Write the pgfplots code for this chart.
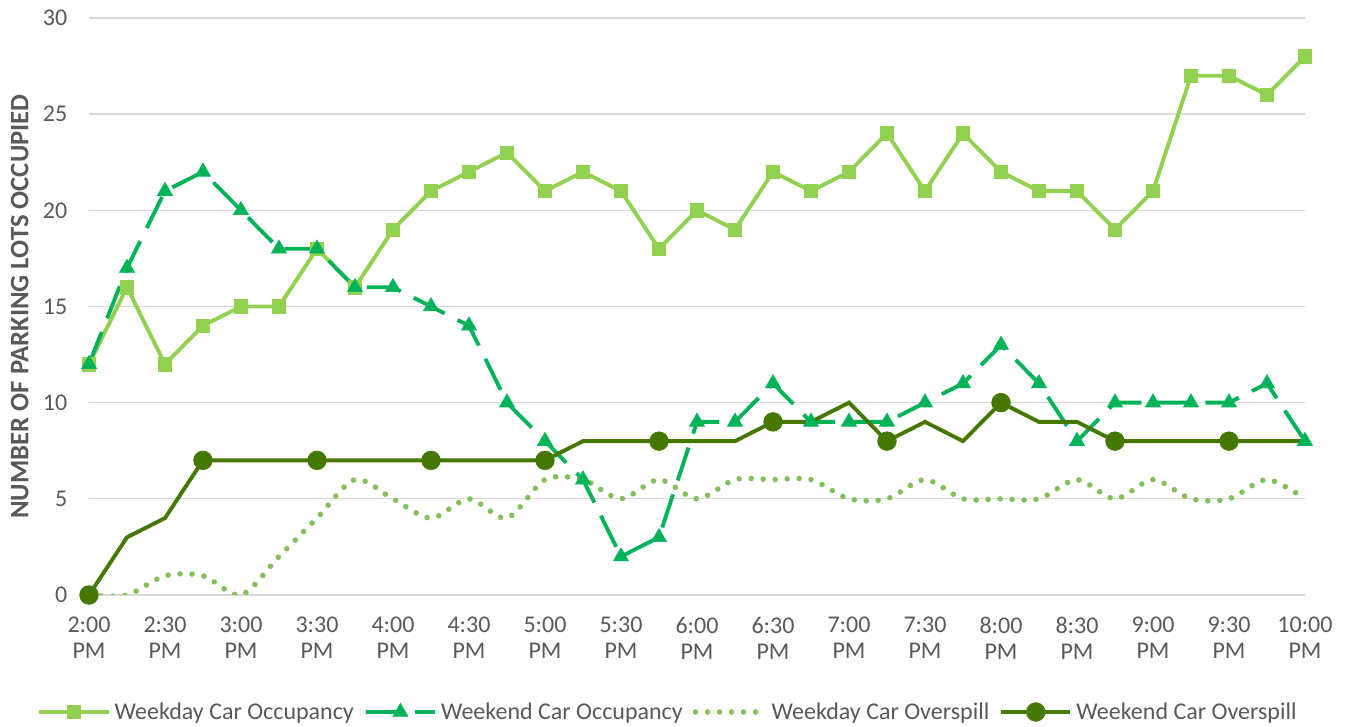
\documentclass[border=0pt]{standalone}
\usepackage{pgfplots}
\pgfplotsset{compat=1.18}
\usepackage{pgfplotstable}
\usepackage{fontspec}
\setmainfont{Carlito}
\definecolor{wdocc}{HTML}{92D050}
\definecolor{weocc}{HTML}{00B359}
\definecolor{wdover}{HTML}{84BF5C}
\definecolor{weover}{HTML}{447800}
\definecolor{txt}{HTML}{595959}
\definecolor{grd}{HTML}{D9D9D9}

\pgfplotstableread{
x wdocc weocc wdover weover
0 12 12 0 0
1 16 17 0 3
2 12 21 1 4
3 14 22 1 7
4 15 20 0 7
5 15 18 2 7
6 18 18 4 7
7 16 16 6 7
8 19 16 5 7
9 21 15 4 7
10 22 14 5 7
11 23 10 4 7
12 21 8 6 7
13 22 6 6 8
14 21 2 5 8
15 18 3 6 8
16 20 9 5 8
17 19 9 6 8
18 22 11 6 9
19 21 9 6 9
20 22 9 5 10
21 24 9 5 8
22 21 10 6 9
23 24 11 5 8
24 22 13 5 10
25 21 11 5 9
26 21 8 6 9
27 19 10 5 8
28 21 10 6 8
29 27 10 5 8
30 27 10 5 8
31 26 11 6 8
32 28 8 5 8
}\datatable

\begin{document}
\begin{tikzpicture}
\useasboundingbox (-66.75pt,-99pt) rectangle (943.5pt,446.25pt);
\begin{axis}[
  at={(0pt,0pt)}, anchor=origin,
  scale only axis,
  width=912pt, height=432.75pt,
  xmin=0, xmax=32, ymin=0, ymax=30,
  axis line style={draw=none},
  major tick length=0pt,
  ymajorgrids, grid style={grd, line width=1pt},
  ytick={0,5,...,30},
  xtick={0,2,...,32},
  xticklabels={{2:00\\PM},{2:30\\PM},{3:00\\PM},{3:30\\PM},{4:00\\PM},{4:30\\PM},{5:00\\PM},{5:30\\PM},{6:00\\PM},{6:30\\PM},{7:00\\PM},{7:30\\PM},{8:00\\PM},{8:30\\PM},{9:00\\PM},{9:30\\PM},{10:00\\PM}},
  /pgf/number format/assume math mode=true,
  tick label style={text=txt, font=\fontsize{18}{19.5}\selectfont},
  xticklabel style={align=center, yshift=-13pt},
  yticklabel style={xshift=-12.75pt},
  ylabel={\textbf{NUMBER OF PARKING LOTS OCCUPIED}},
  ylabel style={at={(rel axis cs:0,0.5)}, anchor=center, yshift=52pt, text=txt, font=\fontsize{20}{22}\selectfont},
  legend columns=4,
  legend style={draw=none, fill=none, at={(rel axis cs:0.5,0)}, anchor=center, yshift=-87.75pt, xshift=-21pt,
     font=\fontsize{18}{20}\selectfont, text=txt,
     nodes={inner xsep=3pt},
     /tikz/every even column/.append style={column sep=4.5pt}},
  legend cell align=left,
  legend image code/.code={\draw[#1,mark repeat=2,mark phase=2] plot coordinates {(0pt,0pt) (26pt,0pt) (52pt,0pt)};},
]
\addplot[wdocc, line width=2.9pt, mark=square*, mark size=5pt, mark options={solid, line width=0.5pt}] table[x=x,y=wdocc]{\datatable};
\addlegendentry{Weekday Car Occupancy}
\addplot[weocc, line width=2.9pt, dash pattern=on 26pt off 11pt, mark=triangle*, mark size=6.5pt, mark options={solid, line width=0.5pt}] table[x=x,y=weocc]{\datatable};
\addlegendentry{Weekend Car Occupancy}
\addplot[wdover, line width=4.2pt, line cap=round, dash pattern=on 0pt off 9pt, smooth, tension=0.5] table[x=x,y=wdover]{\datatable};
\addlegendentry{Weekday Car Overspill}
\addplot[weover, line width=2.9pt, mark=*, mark size=7pt, mark repeat=3, mark phase=1, mark options={solid, line width=0.5pt}] table[x=x,y=weover]{\datatable};
\addlegendentry{Weekend Car Overspill}
\end{axis}
\end{tikzpicture}
\end{document}
